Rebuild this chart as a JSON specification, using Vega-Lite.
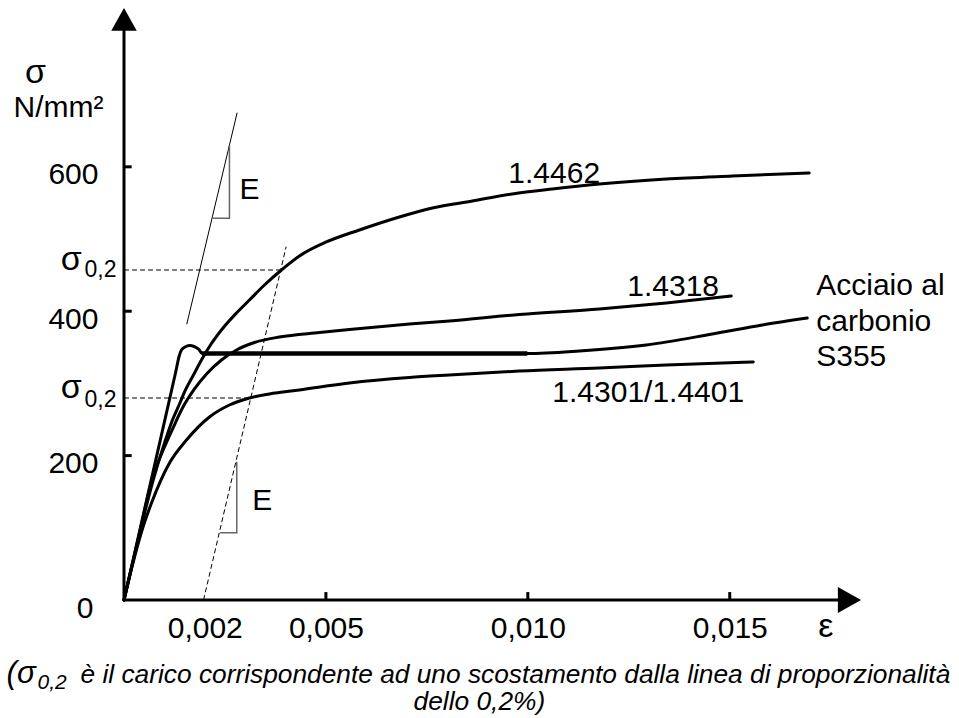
{
  "$schema": "https://vega.github.io/schema/vega-lite/v6.json",
  "width": 737,
  "height": 592,
  "autosize": {"type": "none"},
  "padding": {"left": 124, "top": 8, "right": 98, "bottom": 118},
  "background": "white",
  "config": {"view": {"stroke": null}},
  "datasets": {
    "curves": [
      {"s": "1.4462", "x": 0, "y": 0},
      {"s": "1.4462", "x": 0.000347, "y": 83.1},
      {"s": "1.4462", "x": 0.000723, "y": 166.2},
      {"s": "1.4462", "x": 0.001027, "y": 221.6},
      {"s": "1.4462", "x": 0.0012, "y": 249.3},
      {"s": "1.4462", "x": 0.001374, "y": 271.5},
      {"s": "1.4462", "x": 0.001522, "y": 290.9},
      {"s": "1.4462", "x": 0.00172, "y": 311.7},
      {"s": "1.4462", "x": 0.001918, "y": 332.4},
      {"s": "1.4462", "x": 0.002141, "y": 353.2},
      {"s": "1.4462", "x": 0.002413, "y": 374.0},
      {"s": "1.4462", "x": 0.002785, "y": 397.5},
      {"s": "1.4462", "x": 0.003106, "y": 415.5},
      {"s": "1.4462", "x": 0.003478, "y": 436.3},
      {"s": "1.4462", "x": 0.003899, "y": 457.1},
      {"s": "1.4462", "x": 0.004344, "y": 476.5},
      {"s": "1.4462", "x": 0.005012, "y": 495.9},
      {"s": "1.4462", "x": 0.005829, "y": 512.5},
      {"s": "1.4462", "x": 0.006819, "y": 530.5},
      {"s": "1.4462", "x": 0.007636, "y": 543.0},
      {"s": "1.4462", "x": 0.008626, "y": 552.7},
      {"s": "1.4462", "x": 0.009616, "y": 562.4},
      {"s": "1.4462", "x": 0.010606, "y": 569.3},
      {"s": "1.4462", "x": 0.01177, "y": 576.2},
      {"s": "1.4462", "x": 0.013428, "y": 583.1},
      {"s": "1.4462", "x": 0.015062, "y": 587.3},
      {"s": "1.4462", "x": 0.016968, "y": 591.5},
      {"s": "1.4318", "x": 0, "y": 0},
      {"s": "1.4318", "x": 0.000347, "y": 83.1},
      {"s": "1.4318", "x": 0.000693, "y": 166.2},
      {"s": "1.4318", "x": 0.001002, "y": 211.9},
      {"s": "1.4318", "x": 0.001213, "y": 238.2},
      {"s": "1.4318", "x": 0.001448, "y": 265.9},
      {"s": "1.4318", "x": 0.001745, "y": 292.3},
      {"s": "1.4318", "x": 0.002067, "y": 314.4},
      {"s": "1.4318", "x": 0.002413, "y": 332.4},
      {"s": "1.4318", "x": 0.002809, "y": 347.0},
      {"s": "1.4318", "x": 0.00323, "y": 356.7},
      {"s": "1.4318", "x": 0.003849, "y": 364.3},
      {"s": "1.4318", "x": 0.004839, "y": 370.5},
      {"s": "1.4318", "x": 0.005582, "y": 374.7},
      {"s": "1.4318", "x": 0.007067, "y": 382.3},
      {"s": "1.4318", "x": 0.008057, "y": 386.5},
      {"s": "1.4318", "x": 0.00979, "y": 395.5},
      {"s": "1.4318", "x": 0.01177, "y": 403.1},
      {"s": "1.4318", "x": 0.013428, "y": 411.4},
      {"s": "1.4318", "x": 0.015037, "y": 421.1},
      {"s": "1.4301", "x": 0, "y": 0},
      {"s": "1.4301", "x": 0.00021, "y": 48.5},
      {"s": "1.4301", "x": 0.000433, "y": 94.2},
      {"s": "1.4301", "x": 0.000681, "y": 134.4},
      {"s": "1.4301", "x": 0.000903, "y": 164.8},
      {"s": "1.4301", "x": 0.001126, "y": 189.8},
      {"s": "1.4301", "x": 0.001547, "y": 221.6},
      {"s": "1.4301", "x": 0.002116, "y": 253.5},
      {"s": "1.4301", "x": 0.002611, "y": 270.1},
      {"s": "1.4301", "x": 0.003106, "y": 279.8},
      {"s": "1.4301", "x": 0.003601, "y": 285.3},
      {"s": "1.4301", "x": 0.004344, "y": 290.9},
      {"s": "1.4301", "x": 0.005582, "y": 300.6},
      {"s": "1.4301", "x": 0.007067, "y": 308.2},
      {"s": "1.4301", "x": 0.008057, "y": 311.7},
      {"s": "1.4301", "x": 0.00979, "y": 317.2},
      {"s": "1.4301", "x": 0.01177, "y": 321.4},
      {"s": "1.4301", "x": 0.013428, "y": 325.5},
      {"s": "1.4301", "x": 0.015582, "y": 329.7},
      {"s": "S355", "x": 0, "y": 0},
      {"s": "S355", "x": 0.000687, "y": 169.7},
      {"s": "S355", "x": 0.001275, "y": 314.4},
      {"s": "S355", "x": 0.001374, "y": 339.4},
      {"s": "S355", "x": 0.001423, "y": 346.3},
      {"s": "S355", "x": 0.00151, "y": 350.4},
      {"s": "S355", "x": 0.001621, "y": 352.5},
      {"s": "S355", "x": 0.001745, "y": 351.1},
      {"s": "S355", "x": 0.001856, "y": 347.0},
      {"s": "S355", "x": 0.001931, "y": 341.4},
      {"s": "S355", "x": 0.009988, "y": 341.4},
      {"s": "S355", "x": 0.011275, "y": 344.9},
      {"s": "S355", "x": 0.012933, "y": 353.2},
      {"s": "S355", "x": 0.014567, "y": 368.4},
      {"s": "S355", "x": 0.015804, "y": 380.9},
      {"s": "S355", "x": 0.016918, "y": 390.6}
    ],
    "plateau": [
      {"x": 0.001931, "y": 341.4},
      {"x": 0.009988, "y": 341.4}
    ],
    "dashed": [
      {"s": "upper", "x": 0, "y": 457.1},
      {"s": "upper", "x": 0.003899, "y": 457.1},
      {"s": "lower", "x": 0, "y": 279.8},
      {"s": "lower", "x": 0.003106, "y": 279.8},
      {"s": "offset", "x": 0.00197, "y": 0},
      {"s": "offset", "x": 0.004015, "y": 489.4}
    ],
    "eline": [
      {"x": 0.001554, "y": 381.9},
      {"x": 0.002802, "y": 675.0}
    ],
    "tri": [
      {"s": "up", "o": 0, "x": 0.002198, "y": 528.7},
      {"s": "up", "o": 1, "x": 0.002611, "y": 528.7},
      {"s": "up", "o": 2, "x": 0.002611, "y": 630.2},
      {"s": "low", "o": 0, "x": 0.002381, "y": 93.2},
      {"s": "low", "o": 1, "x": 0.002792, "y": 93.2},
      {"s": "low", "o": 2, "x": 0.002792, "y": 191.6}
    ],
    "axes": [
      {"x": 0, "y": 0, "x2": 0, "y2": 800},
      {"x": 0, "y": 0, "x2": 0.0178, "y2": 0},
      {"x": 0, "y": 200, "x2": 0.00019, "y2": 200},
      {"x": 0, "y": 400, "x2": 0.00019, "y2": 400},
      {"x": 0, "y": 600, "x2": 0.00019, "y2": 600},
      {"x": 0.005, "y": 0, "x2": 0.005, "y2": 11},
      {"x": 0.01, "y": 0, "x2": 0.01, "y2": 11},
      {"x": 0.015, "y": 0, "x2": 0.015, "y2": 11}
    ],
    "labels": [
      {"x": 0.009517, "y": 577.6, "t": "1.4462"},
      {"x": 0.012463, "y": 421.1, "t": "1.4318"},
      {"x": 0.010606, "y": 274.7, "t": "1.4301/1.4401"},
      {"x": 0.017141, "y": 422.5, "t": "Acciaio al"},
      {"x": 0.017141, "y": 372.6, "t": "carbonio"},
      {"x": 0.017141, "y": 324.1, "t": "S355"},
      {"x": 0.002859, "y": 555.0, "t": "E"},
      {"x": 0.003173, "y": 124.7, "t": "E"}
    ],
    "unit": [
      {"x": -0.002735, "y": 668.7, "t": "N/mm²"}
    ],
    "greek": [
      {"x": -0.002191, "y": 716.0, "t": "σ"},
      {"x": 0.017376, "y": -50.8, "t": "ε"},
      {"x": -0.001307, "y": 457.1, "t": "σ"},
      {"x": -0.001307, "y": 279.4, "t": "σ"}
    ],
    "subs": [
      {"x": -0.000978, "y": 447.8, "t": "0,2"},
      {"x": -0.000978, "y": 267.7, "t": "0,2"}
    ],
    "capSigma": [
      {"x": -0.002908, "y": -115.0, "t": "(σ"}
    ],
    "capSub": [
      {"x": -0.002141, "y": -123.3, "t": "0,2"}
    ],
    "capMain": [
      {"x": -0.001077, "y": -115.0, "t": "è il carico corrispondente ad uno scostamento dalla linea di proporzionalità"}
    ],
    "capLine2": [
      {"x": 0.0088, "y": -152.4, "t": "dello 0,2%)"}
    ]
  },
  "encoding": {
    "x": {
      "field": "x",
      "type": "quantitative",
      "scale": {"domain": [0, 0.01825], "nice": false, "zero": false},
      "axis": {
        "values": [0.002, 0.005, 0.01, 0.015],
        "labelExpr": "replace(format(datum.value, '.3f'), '.', ',')",
        "domain": false,
        "grid": false,
        "ticks": false,
        "labelFont": "Liberation Sans",
        "labelFontSize": 30,
        "labelColor": "black",
        "labelBaseline": "alphabetic",
        "labelPadding": 37,
        "labelFlush": false,
        "labelOverlap": false,
        "title": null
      }
    },
    "y": {
      "field": "y",
      "type": "quantitative",
      "scale": {"domain": [0, 820], "nice": false},
      "axis": {
        "values": [0, 200, 400, 600],
        "domain": false,
        "grid": false,
        "ticks": false,
        "labelFont": "Liberation Sans",
        "labelFontSize": 30,
        "labelColor": "black",
        "labelAlign": "right",
        "labelBaseline": "alphabetic",
        "labelOffset": 17,
        "labelPadding": {"condition": {"test": "datum.value == 0", "value": 31}, "value": 26},
        "labelOverlap": false,
        "title": null
      }
    }
  },
  "layer": [
    {
      "data": {"name": "dashed"},
      "mark": {"type": "line", "strokeDash": [5, 3], "strokeWidth": 1, "color": "black"},
      "encoding": {"detail": {"field": "s"}}
    },
    {
      "data": {"name": "eline"},
      "mark": {"type": "line", "strokeWidth": 1, "color": "black"},
      "encoding": {}
    },
    {
      "data": {"name": "tri"},
      "mark": {"type": "line", "strokeWidth": 1.5, "color": "#666666"},
      "encoding": {"detail": {"field": "s"}, "order": {"field": "o"}}
    },
    {
      "data": {"name": "curves"},
      "mark": {"type": "line", "interpolate": "monotone", "strokeWidth": 3, "color": "black", "strokeCap": "round", "strokeJoin": "round"},
      "encoding": {"detail": {"field": "s"}}
    },
    {
      "data": {"name": "plateau"},
      "mark": {"type": "line", "strokeWidth": 4.5, "color": "black"},
      "encoding": {}
    },
    {
      "data": {"name": "axes"},
      "mark": {"type": "rule", "strokeWidth": 3, "color": "black"},
      "encoding": {"x2": {"field": "x2"}, "y2": {"field": "y2"}}
    },
    {
      "data": {"values": [{"x": 0, "y": 820}]},
      "mark": {"type": "point", "shape": "M0,0L1,1.78L-1,1.78Z", "size": 650, "filled": true, "color": "black", "opacity": 1, "strokeWidth": 0}
    },
    {
      "data": {"values": [{"x": 0.01825, "y": 0}]},
      "mark": {"type": "point", "shape": "M0,0L-1.78,-1L-1.78,1Z", "size": 676, "filled": true, "color": "black", "opacity": 1, "strokeWidth": 0}
    },
    {
      "data": {"name": "labels"},
      "mark": {"type": "text", "align": "left", "baseline": "alphabetic", "font": "Liberation Sans", "fontSize": 30, "color": "black"},
      "encoding": {"text": {"field": "t"}}
    },
    {
      "data": {"name": "unit"},
      "mark": {"type": "text", "align": "left", "baseline": "alphabetic", "font": "Liberation Sans", "fontSize": 30, "color": "black"},
      "encoding": {"text": {"field": "t"}}
    },
    {
      "data": {"name": "greek"},
      "mark": {"type": "text", "align": "center", "baseline": "alphabetic", "font": "Liberation Sans", "fontSize": 34, "color": "black"},
      "encoding": {"text": {"field": "t"}}
    },
    {
      "data": {"name": "subs"},
      "mark": {"type": "text", "align": "left", "baseline": "alphabetic", "font": "Liberation Sans", "fontSize": 23, "color": "black"},
      "encoding": {"text": {"field": "t"}}
    },
    {
      "data": {"name": "capSigma"},
      "mark": {"type": "text", "align": "left", "baseline": "alphabetic", "font": "Liberation Sans", "fontStyle": "italic", "fontSize": 31, "color": "black"},
      "encoding": {"text": {"field": "t"}}
    },
    {
      "data": {"name": "capSub"},
      "mark": {"type": "text", "align": "left", "baseline": "alphabetic", "font": "Liberation Sans", "fontStyle": "italic", "fontSize": 21, "color": "black"},
      "encoding": {"text": {"field": "t"}}
    },
    {
      "data": {"name": "capMain"},
      "mark": {"type": "text", "align": "left", "baseline": "alphabetic", "font": "Liberation Sans", "fontStyle": "italic", "fontSize": 26.3, "color": "black"},
      "encoding": {"text": {"field": "t"}}
    },
    {
      "data": {"name": "capLine2"},
      "mark": {"type": "text", "align": "center", "baseline": "alphabetic", "font": "Liberation Sans", "fontStyle": "italic", "fontSize": 26.3, "color": "black"},
      "encoding": {"text": {"field": "t"}}
    }
  ]
}
